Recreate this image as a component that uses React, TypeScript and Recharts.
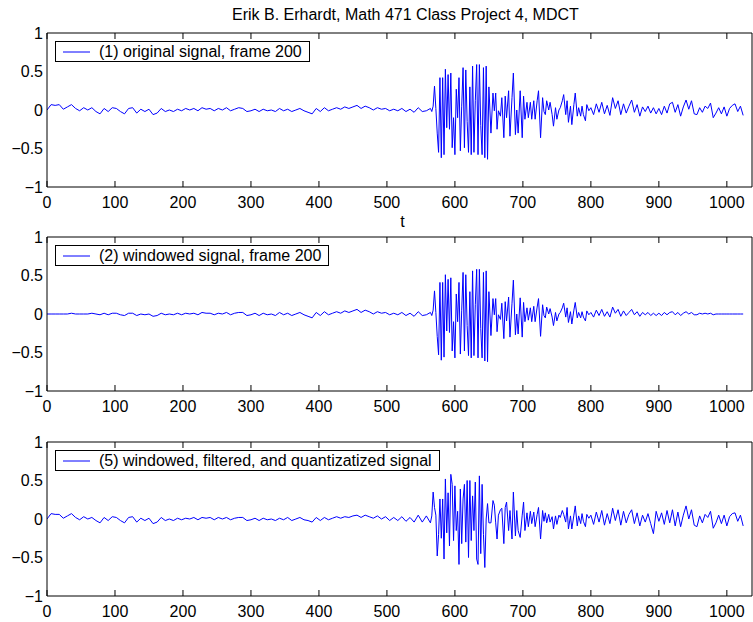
import React from 'react';
import { LineChart, Line, XAxis, YAxis, Legend } from 'recharts';

const tQuiet = [0, 6, 12, 18, 24, 30, 36, 42, 48, 54, 60, 66, 72, 78, 84, 90, 96, 102, 108, 114, 120, 126, 132, 138, 144, 150, 156, 162, 168, 174, 180, 186, 192, 198, 204, 210, 216, 222, 228, 234, 240, 246, 252, 258, 264, 270, 276, 282, 288, 294, 300, 306, 312, 318, 324, 330, 336, 342, 348, 354, 360, 366, 372, 378, 384, 390, 396, 402, 408, 414, 420, 426, 432, 438, 444, 450, 456, 462, 468, 474, 480, 486, 492, 498, 504, 510, 516, 522, 528, 534, 540, 546, 552, 558, 564];
const tBurst = [566, 568, 570, 572, 574, 576, 578, 580, 582, 584, 586, 588, 590, 592, 594, 596, 598, 600, 602, 604, 606, 608, 610, 612, 614, 616, 618, 620, 622, 624, 626, 628, 630, 632, 634, 636, 638, 640, 642, 644, 646, 648, 650];
const tDecay = [653, 656, 658, 660, 662, 664, 667, 669, 672, 674, 676, 679, 681, 684, 686, 689, 691, 693, 696, 699, 701, 703, 706, 708, 711, 713, 716, 718, 721, 723, 726, 729, 731, 733, 735, 738, 740, 743, 745, 748, 750, 753, 755, 758, 760, 763, 765, 767, 770, 772, 775, 777, 780, 782, 785, 787, 789, 792, 794, 797];
const tTail = [800, 804, 808, 812, 816, 820, 824, 828, 832, 836, 840, 844, 848, 852, 856, 860, 864, 868, 872, 876, 880, 884, 888, 892, 896, 900, 904, 908, 912, 916, 920, 924, 928, 932, 936, 940, 944, 948, 952, 956, 960, 964, 968, 972, 976, 980, 984, 988, 992, 996, 1000, 1004, 1008, 1012, 1016, 1020, 1024];

// (1) original signal
const origQuiet = [0.00, 0.07, 0.06, 0.07, 0.01, 0.04, 0.07, 0.02, -0.01, 0.03, 0.00, 0.03, -0.02, -0.05, 0.02, -0.02, 0.03, 0.02, -0.02, -0.05, 0.02, 0.03, -0.04, 0.01, -0.02, 0.01, -0.06, -0.04, 0.02, -0.02, 0.00, -0.02, 0.01, -0.01, 0.02, 0.00, 0.02, -0.01, 0.03, 0.01, 0.02, -0.01, 0.02, 0.00, 0.03, -0.01, 0.01, 0.03, 0.02, -0.02, -0.01, 0.01, -0.02, 0.01, -0.01, 0.00, -0.02, 0.02, -0.01, 0.01, -0.02, 0.00, 0.02, -0.01, -0.03, -0.05, 0.02, -0.02, 0.03, -0.01, 0.01, 0.03, 0.01, 0.04, 0.02, 0.04, 0.06, 0.02, 0.05, 0.03, 0.00, 0.03, 0.01, 0.02, -0.01, 0.01, -0.01, 0.02, -0.02, 0.01, -0.03, 0.03, -0.02, -0.01, 0.02];
const origBurst = [-0.02, 0.05, 0.31, 0.02, -0.30, -0.55, 0.42, -0.62, 0.42, -0.58, 0.53, -0.23, 0.46, -0.25, 0.48, -0.49, -0.10, -0.58, 0.27, -0.10, 0.42, -0.53, 0.05, 0.55, -0.49, 0.52, -0.15, -0.55, 0.30, -0.58, 0.57, -0.55, 0.12, 0.59, -0.58, 0.59, -0.20, -0.58, 0.55, -0.62, 0.57, -0.64, 0.30];
const origDecay = [-0.30, 0.22, -0.01, 0.22, -0.25, -0.01, -0.08, 0.16, -0.36, 0.18, -0.10, 0.25, -0.34, 0.16, 0.48, -0.32, 0.00, -0.30, 0.25, -0.36, 0.18, -0.12, 0.10, -0.10, 0.10, -0.12, 0.12, -0.12, 0.12, 0.25, -0.36, 0.16, -0.02, -0.06, 0.12, 0.00, 0.10, -0.06, -0.21, 0.03, -0.12, 0.00, 0.03, 0.12, 0.20, -0.06, 0.12, -0.16, 0.05, -0.19, 0.07, 0.22, -0.08, 0.03, -0.08, 0.05, -0.06, -0.14, 0.07, -0.01];
const origTail = [0.03, -0.06, 0.08, -0.03, 0.10, -0.05, 0.06, -0.07, 0.16, 0.02, 0.12, -0.06, 0.08, -0.04, 0.05, 0.13, -0.03, 0.07, -0.08, 0.04, -0.02, 0.05, -0.04, 0.03, -0.05, 0.02, -0.06, 0.05, -0.04, 0.08, 0.10, -0.03, 0.07, -0.08, 0.04, 0.13, 0.01, 0.12, -0.05, -0.06, 0.03, -0.03, 0.05, 0.02, 0.09, -0.10, -0.04, 0.03, -0.05, 0.04, -0.08, 0.02, 0.06, 0.08, -0.02, 0.05, -0.07];

// (2) windowed signal
const winQuiet = [0.00, 0.00, 0.00, 0.00, 0.00, 0.00, 0.01, 0.00, 0.00, 0.00, 0.00, 0.01, 0.00, -0.01, 0.01, -0.01, 0.01, 0.01, -0.01, -0.02, 0.01, 0.01, -0.02, 0.00, -0.01, 0.00, -0.03, -0.02, 0.01, -0.01, 0.00, -0.01, 0.01, -0.01, 0.01, 0.00, 0.01, -0.01, 0.02, 0.01, 0.01, -0.01, 0.01, 0.00, 0.02, -0.01, 0.01, 0.02, 0.02, -0.02, -0.01, 0.01, -0.02, 0.01, -0.01, 0.00, -0.02, 0.02, -0.01, 0.01, -0.02, 0.00, 0.02, -0.01, -0.03, -0.05, 0.02, -0.02, 0.03, -0.01, 0.01, 0.03, 0.01, 0.04, 0.02, 0.04, 0.06, 0.02, 0.05, 0.03, 0.00, 0.03, 0.01, 0.02, -0.01, 0.01, -0.01, 0.02, -0.02, 0.01, -0.03, 0.03, -0.02, -0.01, 0.02];
const winBurst = [-0.02, 0.05, 0.30, 0.02, -0.29, -0.53, 0.41, -0.60, 0.41, -0.56, 0.51, -0.22, 0.45, -0.24, 0.47, -0.48, -0.10, -0.57, 0.26, -0.10, 0.41, -0.52, 0.05, 0.54, -0.48, 0.51, -0.15, -0.54, 0.29, -0.57, 0.56, -0.54, 0.12, 0.58, -0.57, 0.58, -0.19, -0.57, 0.54, -0.61, 0.56, -0.62, 0.29];
const winDecay = [-0.28, 0.20, -0.01, 0.20, -0.23, -0.01, -0.07, 0.14, -0.32, 0.16, -0.09, 0.22, -0.30, 0.14, 0.44, -0.27, 0.00, -0.26, 0.21, -0.30, 0.15, -0.10, 0.08, -0.08, 0.08, -0.10, 0.10, -0.10, 0.09, 0.20, -0.29, 0.12, -0.02, -0.05, 0.09, 0.00, 0.07, -0.04, -0.15, 0.02, -0.09, 0.00, 0.02, 0.08, 0.14, -0.04, 0.08, -0.11, 0.03, -0.13, 0.05, 0.15, -0.05, 0.02, -0.05, 0.03, -0.04, -0.09, 0.04, -0.01];
const winTail = [0.02, -0.04, 0.05, -0.02, 0.06, -0.03, 0.03, -0.04, 0.09, 0.01, 0.06, -0.03, 0.04, -0.02, 0.02, 0.06, -0.01, 0.03, -0.03, 0.02, -0.01, 0.02, -0.02, 0.01, -0.02, 0.01, -0.02, 0.02, -0.01, 0.02, 0.03, -0.01, 0.02, -0.02, 0.01, 0.03, 0.00, 0.02, -0.01, -0.01, 0.01, 0.00, 0.01, 0.00, 0.01, -0.01, 0.00, 0.00, 0.00, 0.00, 0.00, 0.00, 0.00, 0.00, 0.00, 0.00, 0.00];

// (5) windowed, filtered, and quantizatized signal
const quantQuiet = [0.00, 0.07, 0.06, 0.06, 0.01, 0.04, 0.07, 0.02, -0.01, 0.03, 0.00, 0.02, -0.02, -0.05, 0.02, -0.02, 0.03, 0.02, -0.02, -0.05, 0.02, 0.03, -0.04, 0.01, -0.02, 0.01, -0.06, -0.04, 0.02, -0.02, 0.00, -0.02, 0.01, -0.01, 0.01, 0.00, 0.02, -0.01, 0.02, 0.01, 0.02, -0.01, 0.02, 0.00, 0.02, -0.01, 0.01, 0.02, 0.02, -0.02, -0.01, 0.01, -0.02, 0.01, -0.01, 0.00, -0.02, 0.01, -0.01, 0.02, -0.02, 0.00, 0.02, -0.01, -0.02, -0.04, 0.02, -0.02, 0.02, -0.01, 0.01, 0.03, 0.01, 0.03, 0.02, 0.04, 0.05, 0.02, 0.05, 0.03, 0.01, 0.04, 0.00, 0.03, -0.02, 0.02, -0.02, 0.03, -0.03, 0.02, -0.04, 0.05, -0.04, 0.04, -0.05];
const quantBurst = [0.04, 0.35, 0.15, 0.05, -0.48, -0.20, 0.26, -0.25, 0.26, -0.52, 0.52, -0.18, 0.34, -0.35, 0.58, 0.45, -0.28, 0.43, -0.15, 0.10, -0.59, 0.39, -0.32, 0.26, 0.45, -0.30, 0.50, -0.50, 0.50, -0.28, 0.30, -0.15, 0.48, -0.52, -0.59, 0.56, -0.45, 0.45, -0.20, -0.63, 0.00, 0.20, -0.05];
const quantDecay = [-0.05, 0.24, 0.18, -0.05, -0.26, 0.05, 0.12, 0.14, -0.32, 0.15, 0.22, -0.15, 0.11, -0.26, 0.35, -0.22, 0.11, -0.15, -0.24, 0.05, 0.22, -0.15, 0.08, -0.10, 0.10, -0.06, 0.09, -0.10, 0.06, 0.15, -0.26, 0.11, -0.03, 0.08, -0.05, 0.06, -0.04, 0.03, -0.13, 0.04, -0.07, 0.05, 0.02, 0.11, 0.06, -0.04, 0.15, -0.13, 0.04, -0.13, 0.05, 0.17, -0.09, 0.04, -0.06, 0.07, -0.03, -0.10, 0.06, 0.01];
const quantTail = [0.05, -0.07, 0.09, -0.04, 0.11, -0.08, 0.07, -0.06, 0.14, -0.02, 0.12, -0.08, 0.10, -0.05, 0.06, 0.12, -0.06, 0.08, -0.09, 0.05, -0.04, 0.07, -0.06, -0.19, 0.10, -0.03, 0.08, -0.07, 0.11, -0.05, 0.12, -0.09, 0.09, -0.10, 0.05, 0.17, 0.00, 0.12, -0.08, -0.10, 0.04, -0.05, 0.06, 0.02, 0.10, -0.12, -0.05, 0.05, -0.06, 0.05, -0.09, 0.03, 0.07, 0.08, -0.03, 0.05, -0.09];

const xTicks = [0, 100, 200, 300, 400, 500, 600, 700, 800, 900, 1000];
const yTicks = [-1, -0.5, 0, 0.5, 1];

const tAll = [...tQuiet, ...tBurst, ...tDecay, ...tTail];
const orig = [...origQuiet, ...origBurst, ...origDecay, ...origTail];
const win = [...winQuiet, ...winBurst, ...winDecay, ...winTail];
const quant = [...quantQuiet, ...quantBurst, ...quantDecay, ...quantTail];

const rows = tAll.map((t, i) => ({ t, orig: orig[i], win: win[i], quant: quant[i] }));

const FONT = "'Liberation Sans', Arial, Helvetica, sans-serif";
const fmtY = (v: number) => String(v).replace('-', '\u2212');
const noTick = () => <g />;
const PAD_TOP = 12; // room above the plot box so the "1" label is not pushed down

const LegendBox = ({ label }: { label: string }) => (
  <div
    style={{
      display: 'inline-flex',
      alignItems: 'center',
      border: '1px solid #000',
      background: '#fff',
      padding: '0 7px',
      height: 19,
      fontFamily: FONT,
      fontSize: 16,
      color: '#000',
      whiteSpace: 'nowrap',
    }}
  >
    <svg width={27} height={10} style={{ display: 'block' }}>
      <line x1={0} y1={5} x2={27} y2={5} stroke="#0000ff" strokeWidth={1} />
    </svg>
    <span style={{ marginLeft: 9, lineHeight: '17px' }}>{label}</span>
  </div>
);

interface PanelProps {
  top: number;
  dataKey: string;
  label: string;
  xLabel?: string;
}

const Panel: React.FC<PanelProps> = ({ top, dataKey, label, xLabel }) => {
  const axisH = xLabel ? 40 : 26;
  const padBottom = xLabel ? 8 : 0;
  return (
    <div style={{ position: 'absolute', left: 0, top: top - PAD_TOP }}>
      <LineChart
        width={753}
        height={PAD_TOP + 154 + axisH + padBottom}
        data={rows}
        margin={{ top: PAD_TOP, right: 1, bottom: padBottom, left: 0 }}
      >
        <XAxis
          xAxisId="b"
          dataKey="t"
          type="number"
          domain={[0, 1037]}
          ticks={xTicks}
          allowDataOverflow
          height={axisH}
          tickLine={false}
          tickSize={0}
          tickMargin={10}
          axisLine={{ stroke: '#000' }}
          tick={{ fill: '#000', fontSize: 16 }}
          label={xLabel ? { value: xLabel, position: 'insideBottom', offset: 0, dx: 3, fill: '#000', fontSize: 16 } : undefined}
        />
        <XAxis
          xAxisId="bm"
          dataKey="t"
          type="number"
          domain={[0, 1037]}
          ticks={xTicks}
          allowDataOverflow
          mirror
          tickSize={6}
          tick={noTick}
          tickLine={{ stroke: '#000' }}
          axisLine={false}
        />
        <XAxis
          xAxisId="tm"
          dataKey="t"
          type="number"
          orientation="top"
          domain={[0, 1037]}
          ticks={xTicks}
          allowDataOverflow
          mirror
          tickSize={6}
          tick={noTick}
          tickLine={{ stroke: '#000' }}
          axisLine={{ stroke: '#000' }}
        />
        <YAxis
          yAxisId="l"
          type="number"
          domain={[-1, 1]}
          ticks={yTicks}
          interval={0}
          width={47}
          tickLine={false}
          tickSize={0}
          tickMargin={4}
          axisLine={{ stroke: '#000' }}
          tick={{ fill: '#000', fontSize: 16 }}
          tickFormatter={fmtY}
        />
        <YAxis
          yAxisId="lm"
          type="number"
          domain={[-1, 1]}
          ticks={yTicks}
          mirror
          tickSize={6}
          tick={noTick}
          tickLine={{ stroke: '#000' }}
          axisLine={false}
        />
        <YAxis
          yAxisId="rm"
          type="number"
          orientation="right"
          domain={[-1, 1]}
          ticks={yTicks}
          mirror
          tickSize={6}
          tick={noTick}
          tickLine={{ stroke: '#000' }}
          axisLine={{ stroke: '#000' }}
        />
        <Line
          xAxisId="b"
          yAxisId="l"
          type="linear"
          dataKey={dataKey}
          stroke="#0000ff"
          strokeWidth={1}
          dot={false}
          isAnimationActive={false}
        />
        <Legend
          layout="vertical"
          align="center"
          verticalAlign="middle"
          wrapperStyle={{ left: 55, top: PAD_TOP + 8, width: 'auto' }}
          content={() => <LegendBox label={label} />}
        />
      </LineChart>
    </div>
  );
};

export default function App() {
  return (
    <div style={{ position: 'absolute', left: 0, top: 0, width: 753, height: 622, background: '#fff', fontFamily: FONT }}>
      <div style={{ position: 'absolute', left: 232, top: 7, fontSize: 16, lineHeight: '16px', whiteSpace: 'nowrap', color: '#000' }}>
        Erik B. Erhardt, Math 471 Class Project 4, MDCT
      </div>
      <Panel top={33} dataKey="orig" label="(1) original signal, frame 200" xLabel="t" />
      <Panel top={237} dataKey="win" label="(2) windowed signal, frame 200" />
      <Panel top={442} dataKey="quant" label="(5) windowed, filtered, and quantizatized signal" />
    </div>
  );
}
